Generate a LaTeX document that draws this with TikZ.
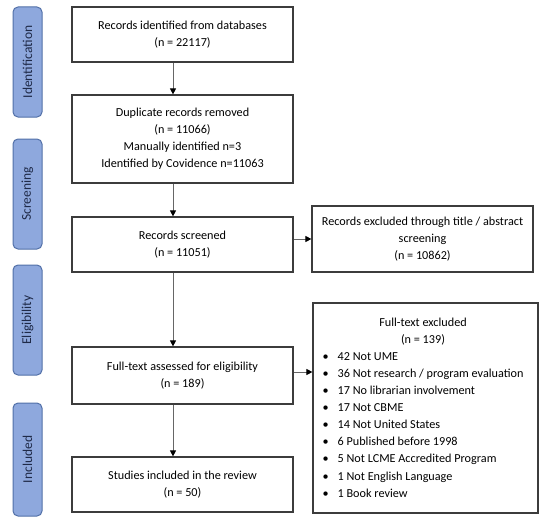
\documentclass[tikz,border=0pt]{standalone}
\usepackage{fontspec}
\setmainfont{Carlito}
\usetikzlibrary{arrows.meta}
\definecolor{sidefill}{HTML}{8EA8DD}
\definecolor{sidedraw}{HTML}{5270A8}
\definecolor{sidetext}{HTML}{1F2A48}
\definecolor{boxline}{HTML}{3C3C3C}
\definecolor{arrline}{HTML}{666666}
\begin{document}
\begin{tikzpicture}[x=1pt,y=-1pt,
  mainfont/.style={font=\fontsize{12.2}{17.1}\selectfont},
  flowbox/.style={draw=boxline, line width=1.2pt, fill=white, align=center, inner sep=0pt, mainfont},
  sidebox/.style={draw=sidedraw, line width=1pt, fill=sidefill, rounded corners=5pt, minimum width=29pt, inner sep=0pt},
  sidelabel/.style={rotate=90, text=sidetext, font=\fontsize{13.5}{15}\selectfont},
  flowarrow/.style={draw=arrline, line width=1pt, -{Triangle[length=6pt,width=6pt,color=black]}}
]
\useasboundingbox[fill=white] (0,0) rectangle (540,519);

% side labels
\node[sidebox, minimum height=110pt] (sid) at (27.5,62) {};
\node[sidelabel] (sidt) at (sid.center) {Identification};
\node[sidebox, minimum height=110pt] (sscr) at (27.5,194) {};
\node[sidelabel] (sscrt) at (sscr.center) {Screening};
\node[sidebox, minimum height=110pt] (selg) at (27.5,320) {};
\node[sidelabel] (selgt) at (selg.center) {Eligibility};
\node[sidebox, minimum height=113pt] (sinc) at (27.5,459.5) {};
\node[sidelabel] (sinct) at (sinc.center) {Included};

% main boxes
\node[flowbox, minimum width=221pt, minimum height=55pt] (b1) at (182.5,34.5)
  {Records identified from databases\\(n = 22117)};
\node[flowbox, minimum width=221pt, minimum height=88pt] (b2) at (182.5,139)
  {Duplicate records removed\\(n = 11066)\\Manually identified n=3\\Identified by Covidence n=11063};
\node[flowbox, minimum width=221pt, minimum height=55pt] (b3) at (182.5,244.5)
  {Records screened\\(n = 11051)};
\node[flowbox, minimum width=221pt, minimum height=57pt] (b4) at (182.5,375.5)
  {Full-text assessed for eligibility\\(n = 189)};
\node[flowbox, minimum width=221pt, minimum height=55pt] (b5) at (182.5,484.5)
  {Studies included in the review\\(n = 50)};

% right boxes
\node[flowbox, minimum width=221pt, minimum height=66pt] (r1) at (422.5,239)
  {Records excluded through title / abstract\\screening\\(n = 10862)};
\node[flowbox, minimum width=225pt, minimum height=210pt] (r2) at (425.5,408) {};
\node[mainfont, anchor=north, inner sep=0pt] (r2t) at (423,314) {%
  \begin{tabular}{@{}c@{\hspace{9pt}}l@{}}
  \multicolumn{2}{c}{Full-text excluded}\\
  \multicolumn{2}{c}{(n = 139)}\\
  • & 42 Not UME\\
  • & 36 Not research / program evaluation\\
  • & 17 No librarian involvement\\
  • & 17 Not CBME\\
  • & 14 Not United States\\
  • & 6 Published before 1998\\
  • & 5 Not LCME Accredited Program\\
  • & 1 Not English Language\\
  • & 1 Book review
  \end{tabular}};

% arrows
\coordinate (ax) at (173,0);
\coordinate (ay) at (0,372);
\draw[flowarrow] (ax |- b1.south) -- (ax |- b2.north);
\draw[flowarrow] (ax |- b2.south) -- (ax |- b3.north);
\draw[flowarrow] (ax |- b3.south) -- (ax |- b4.north);
\draw[flowarrow] (ax |- b4.south) -- (ax |- b5.north);
\draw[flowarrow] (b3.east |- r1.west) -- (r1.west);
\draw[flowarrow] (b4.east |- ay) -- (r2.west |- ay);
\end{tikzpicture}
\end{document}
